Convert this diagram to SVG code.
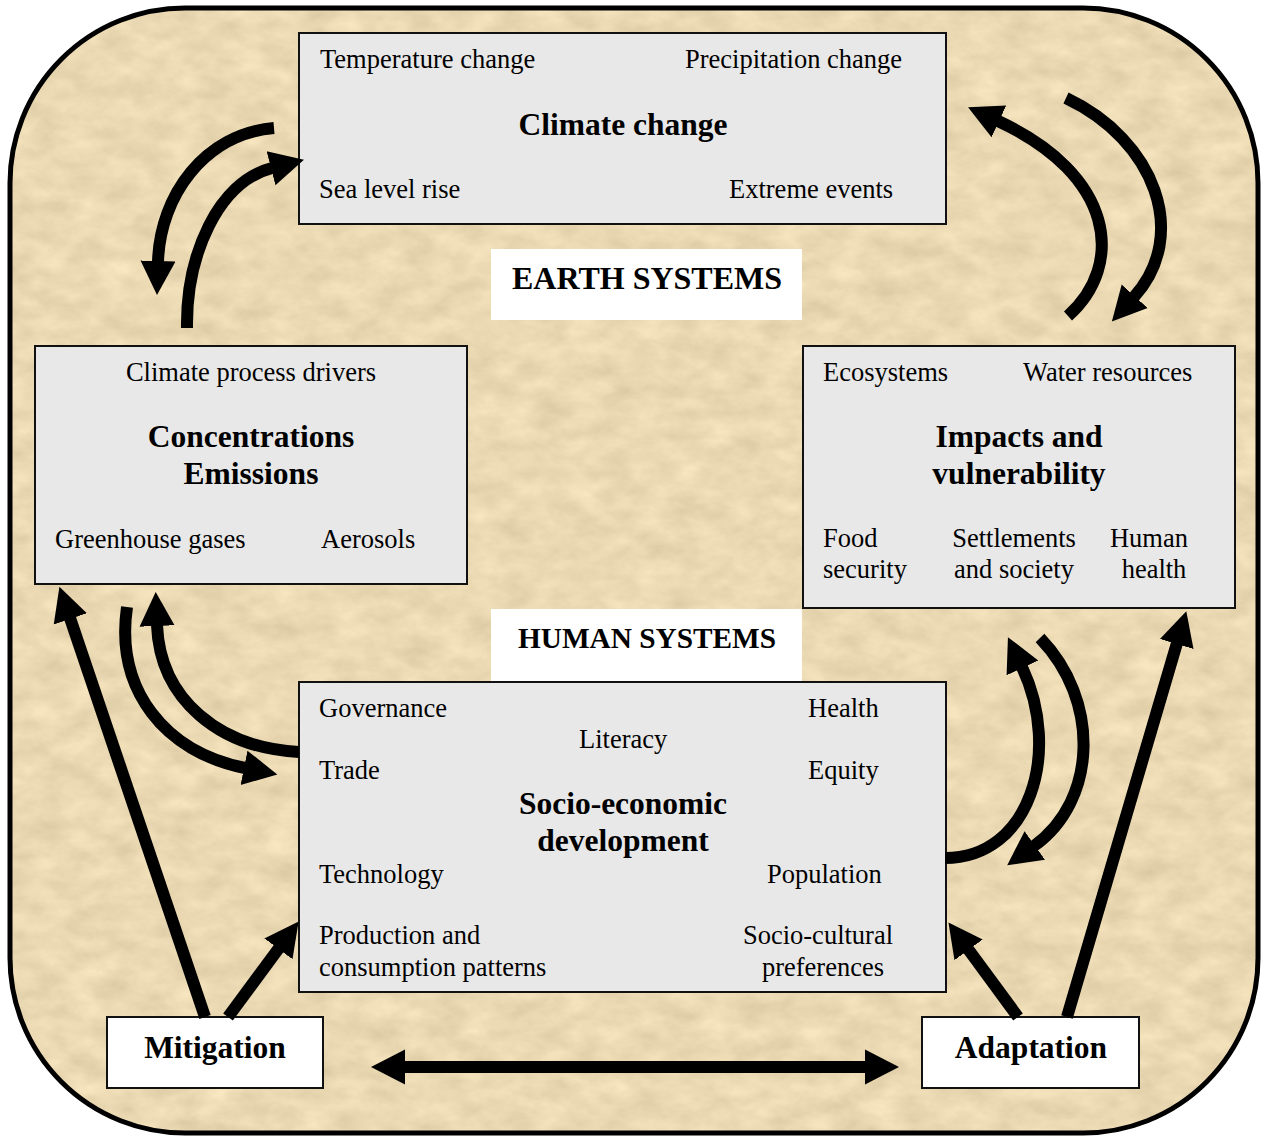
<svg xmlns="http://www.w3.org/2000/svg" width="1261" height="1137" viewBox="0 0 1261 1137">
<style>
.box{fill:#e8e8e8;stroke:#111;stroke-width:2}
.wbox{fill:#fff;stroke:#111;stroke-width:2}
.lbl{fill:#fff;stroke:none}
text{font-family:"Liberation Serif","Times New Roman",serif;font-size:26.5px;fill:#000}
.b{font-weight:bold;font-size:31.5px}
.h{font-weight:bold;font-size:32px}
.h2{font-weight:bold;font-size:29.3px}
.c{text-anchor:middle}
.arr{fill:none;stroke:#000;stroke-width:12;marker-end:url(#ah)}
.dbl{fill:none;stroke:#000;stroke-width:12;marker-end:url(#ah);marker-start:url(#ah2)}
</style>
<defs>
<filter id="paper" x="0" y="0" width="1" height="1" color-interpolation-filters="sRGB">
<feTurbulence type="fractalNoise" baseFrequency="0.03 0.05" numOctaves="4" seed="7" result="n"/>
<feColorMatrix in="n" type="matrix" values="0.14 0 0 0 0.85  0.14 0 0 0 0.78  0.14 0 0 0 0.63  0 0 0 0 1" result="c"/>
<feComposite in="c" in2="SourceGraphic" operator="in"/>
</filter>
<marker id="ah" viewBox="0 -20 40 40" refX="1" refY="0" markerWidth="40" markerHeight="40" markerUnits="userSpaceOnUse" orient="auto">
<path d="M0,-17.5 L34,0 L0,17.5 z" fill="#000"/>
</marker>
<marker id="ah2" viewBox="0 -20 40 40" refX="1" refY="0" markerWidth="40" markerHeight="40" markerUnits="userSpaceOnUse" orient="auto-start-reverse">
<path d="M0,-17.5 L34,0 L0,17.5 z" fill="#000"/>
</marker>
</defs>
<rect width="1261" height="1137" fill="#fff"/>
<g id="background">
<rect x="10" y="8" width="1248" height="1125" rx="175" ry="175" fill="#e9d8b2" filter="url(#paper)"/>
<rect x="10" y="8" width="1248" height="1125" rx="175" ry="175" fill="none" stroke="#000" stroke-width="5"/>
</g>
<g id="climate-change">
<rect class="box" x="299" y="33" width="647" height="191"/>
<text x="320" y="68">Temperature change</text>
<text x="685" y="68">Precipitation change</text>
<text class="b c" x="623" y="135">Climate change</text>
<text x="319" y="198">Sea level rise</text>
<text x="729" y="198">Extreme events</text>
</g>
<g id="earth-systems">
<rect class="lbl" x="491" y="249" width="311" height="71"/>
<text class="h c" x="647" y="289">EARTH SYSTEMS</text>
</g>
<g id="concentrations">
<rect class="box" x="35" y="346" width="432" height="238"/>
<text class="c" x="251" y="381">Climate process drivers</text>
<text class="b c" x="251" y="447">Concentrations</text>
<text class="b c" x="251" y="484">Emissions</text>
<text x="55" y="548">Greenhouse gases</text>
<text x="321" y="548">Aerosols</text>
</g>
<g id="impacts">
<rect class="box" x="803" y="346" width="432" height="262"/>
<text x="823" y="381">Ecosystems</text>
<text x="1023" y="381">Water resources</text>
<text class="b c" x="1019" y="447">Impacts and</text>
<text class="b c" x="1019" y="484">vulnerability</text>
<text x="823" y="547">Food</text>
<text x="823" y="578">security</text>
<text class="c" x="1014" y="547">Settlements</text>
<text class="c" x="1014" y="578">and society</text>
<text class="c" x="1149" y="547">Human</text>
<text class="c" x="1154" y="578">health</text>
</g>
<g id="human-systems">
<rect class="lbl" x="491" y="609" width="311" height="72"/>
<text class="h2 c" x="647" y="648">HUMAN SYSTEMS</text>
</g>
<g id="socio-economic">
<rect class="box" x="299" y="682" width="647" height="310"/>
<text x="319" y="717">Governance</text>
<text x="808" y="717">Health</text>
<text x="579" y="748">Literacy</text>
<text x="319" y="779">Trade</text>
<text x="808" y="779">Equity</text>
<text class="b c" x="623" y="814">Socio-economic</text>
<text class="b c" x="623" y="851">development</text>
<text x="319" y="883">Technology</text>
<text x="767" y="883">Population</text>
<text x="319" y="944">Production and</text>
<text x="319" y="976">consumption patterns</text>
<text class="c" x="818" y="944">Socio-cultural</text>
<text class="c" x="823" y="976">preferences</text>
</g>
<g id="mitigation">
<rect class="wbox" x="107" y="1017" width="216" height="71"/>
<text class="b c" x="215" y="1058">Mitigation</text>
</g>
<g id="adaptation">
<rect class="wbox" x="922" y="1017" width="217" height="71"/>
<text class="b c" x="1031" y="1058">Adaptation</text>
</g>
<g id="connectors">
<path class="arr" d="M274,128 C205,134 160,195 158,262"/>
<path class="arr" d="M187,328 C186,255 218,182 272,168"/>
<path class="arr" d="M1068,316 C1125,265 1115,175 998,121"/>
<path class="arr" d="M1066,98 C1155,140 1190,235 1134,297"/>
<path class="arr" d="M127,607 C115,690 165,752 245,768"/>
<path class="arr" d="M299,752 C220,748 160,700 157,625"/>
<path class="arr" d="M945,858 C1030,858 1062,752 1022,667"/>
<path class="arr" d="M1040,638 C1100,700 1098,800 1034,846"/>
<path class="arr" d="M205,1017 L70,618"/>
<path class="arr" d="M228,1017 L279,948"/>
<path class="arr" d="M1018,1017 L968,949"/>
<path class="arr" d="M1067,1017 L1177,643"/>
<path class="dbl" d="M404,1067 L866,1067"/>
</g>
</svg>
